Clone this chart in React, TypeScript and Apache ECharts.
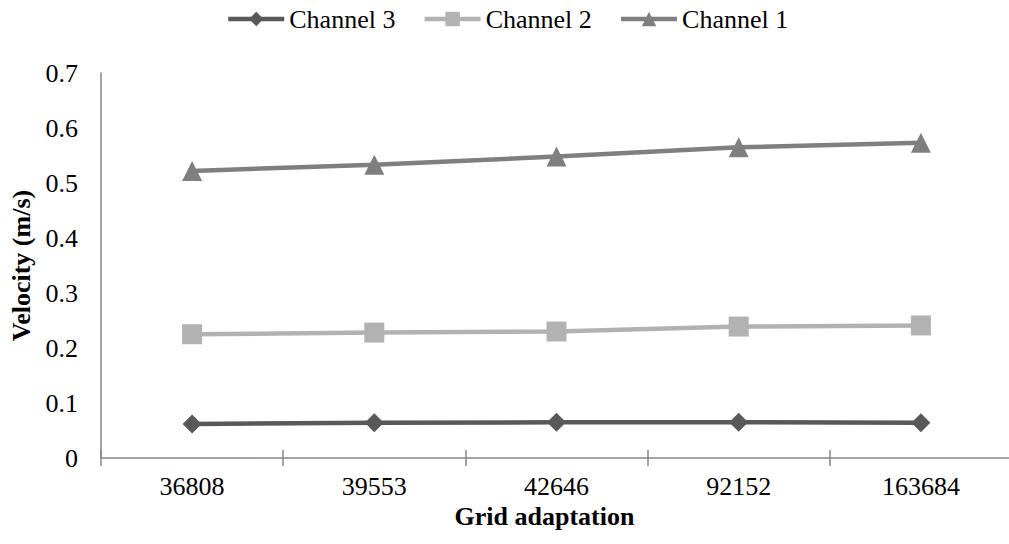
import React, { useEffect, useRef } from "react";
import * as echarts from "echarts";

const categories = ["36808", "39553", "42646", "92152", "163684"];
const channel3 = [0.062, 0.064, 0.065, 0.065, 0.064];
const channel2 = [0.225, 0.228, 0.23, 0.239, 0.241];
const channel1 = [0.522, 0.533, 0.548, 0.565, 0.573];
const yTicks = [0, 0.1, 0.2, 0.3, 0.4, 0.5, 0.6, 0.7];

const FONT = "'Liberation Serif', 'Times New Roman', serif";
const FS = 26;

export default function App() {
  const ref = useRef<HTMLDivElement>(null);

  useEffect(() => {
    if (!ref.current) return;
    const chart = echarts.init(ref.current, null, { renderer: "svg" });
    const axisColor = "#878787";
    const series = [
      { name: "Channel 3", data: channel3, color: "#595959", symbol: "diamond", symbolSize: 19 },
      { name: "Channel 2", data: channel2, color: "#b2b2b2", symbol: "rect", symbolSize: 20 },
      { name: "Channel 1", data: channel1, color: "#7f7f7f", symbol: "triangle", symbolSize: 20 },
    ];
    chart.setOption({
      animation: false,
      backgroundColor: "#ffffff",
      textStyle: { fontFamily: FONT },
      legend: {
        top: 6,
        left: 226,
        padding: 0,
        itemWidth: 56,
        itemHeight: 18,
        itemGap: 27,
        lineStyle: { width: 4.5 },
        textStyle: { fontFamily: FONT, fontSize: FS, color: "#000" },
        data: series.map((s) => s.name),
      },
      grid: { left: 101, top: 73, width: 911, height: 385, outerBoundsMode: "none", containLabel: false },
      xAxis: [
        {
          type: "category",
          data: categories,
          boundaryGap: true,
          axisLine: { lineStyle: { color: axisColor, width: 1.5 } },
          axisTick: { show: true, length: 8, alignWithLabel: false, lineStyle: { color: axisColor, width: 1.5 } },
          axisLabel: { fontFamily: FONT, fontSize: FS, color: "#000", margin: 15 },
          name: "Grid adaptation",
          nameLocation: "middle",
          nameGap: 34,
          nameTextStyle: { fontFamily: FONT, fontSize: FS, fontWeight: "bold", color: "#000", padding: [0, 24, 0, 0] },
        },
        {
          type: "category",
          data: categories,
          position: "bottom",
          boundaryGap: true,
          axisLine: { show: false },
          axisTick: { show: true, inside: true, length: 8, alignWithLabel: false, lineStyle: { color: axisColor, width: 1.5 } },
          axisLabel: { show: false },
        },
      ],
      yAxis: {
        type: "value",
        min: 0,
        max: 0.7,
        interval: 0.1,
        axisLine: { show: true, lineStyle: { color: axisColor, width: 1.5 } },
        axisTick: { show: false },
        splitLine: { show: false },
        axisLabel: {
          fontFamily: FONT,
          fontSize: FS,
          color: "#000",
          margin: 23,
          formatter: (v: number) => {
            const match = yTicks.find((t) => Math.abs(t - v) < 1e-9);
            return String(match !== undefined ? match : v);
          },
        },
        name: "Velocity (m/s)",
        nameLocation: "middle",
        nameGap: 59,
        nameRotate: 90,
        nameTextStyle: { fontFamily: FONT, fontSize: FS, fontWeight: "bold", color: "#000" },
      },
      series: series.map((s) => ({
        name: s.name,
        type: "line",
        data: s.data,
        symbol: s.symbol,
        symbolSize: s.symbolSize,
        showAllSymbol: true,
        color: s.color,
        lineStyle: { color: s.color, width: 4.5 },
        itemStyle: { color: s.color },
      })),
    });
    return () => chart.dispose();
  }, []);

  return <div ref={ref} style={{ width: 1009, height: 544, position: "absolute", left: 0, top: 0 }} />;
}
